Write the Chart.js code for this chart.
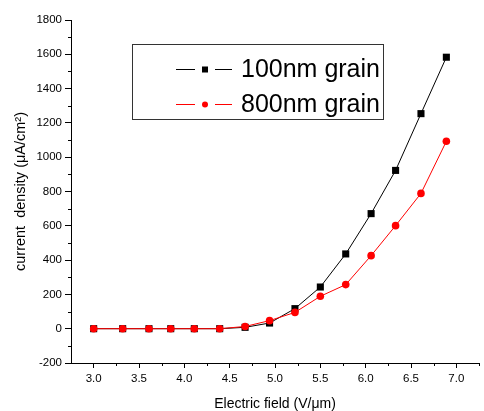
<!DOCTYPE html>
<html>
<head>
<meta charset="utf-8">
<script src="https://cdn.jsdelivr.net/npm/chart.js@4.4.0/dist/chart.umd.min.js"></script>
<style>
  body { margin: 0; background: #fff; }
  #wrap { width: 484px; height: 411px; }
</style>
</head>
<body>
<div id="wrap"><canvas id="grafico" width="484" height="411"></canvas></div>
<script>
// valores
const fieldValues = [3.0, 3.32, 3.61, 3.85, 4.11, 4.39, 4.67, 4.94, 5.22, 5.50, 5.78, 6.06, 6.33, 6.61, 6.89];
const grain100 = [0, 0, 0, 0, 0, 0, 8, 33, 117, 243, 436, 671, 923, 1254, 1583];
const grain800 = [0, 0, 0, 0, 0, 0, 13, 47, 95, 189, 257, 426, 601, 789, 1093];
const seriesNames = ['100nm grain', '800nm grain'];

const xTicks = [3.0, 3.5, 4.0, 4.5, 5.0, 5.5, 6.0, 6.5, 7.0];
const yTicks = [-200, 0, 200, 400, 600, 800, 1000, 1200, 1400, 1600, 1800];

const FONT = '"Liberation Sans", Arial, sans-serif';

function toPoints(ys) {
  return fieldValues.map((x, i) => ({ x: x, y: ys[i] }));
}

function midpoints(t) {
  const out = [];
  for (let i = 0; i < t.length - 1; i++) out.push((t[i] + t[i + 1]) / 2);
  return out;
}

// ticks menores (Chart.js no los tiene)
const minorTicks = {
  id: 'minorTicks',
  afterDraw(chart) {
    const ctx = chart.ctx;
    const xs = chart.scales.x, ys = chart.scales.y;
    ctx.save();
    ctx.strokeStyle = '#000';
    ctx.lineWidth = 1;
    const xm = midpoints(xTicks);
    xm.push(xTicks[xTicks.length - 1] + 0.25);
    xm.forEach(v => {
      if (v > xs.max) return;
      const px = Math.round(xs.getPixelForValue(v)) + 0.5;
      ctx.beginPath();
      ctx.moveTo(px, xs.top);
      ctx.lineTo(px, xs.top + 3);
      ctx.stroke();
    });
    midpoints(yTicks).forEach(v => {
      const py = Math.round(ys.getPixelForValue(v)) + 0.5;
      ctx.beginPath();
      ctx.moveTo(ys.right, py);
      ctx.lineTo(ys.right - 3, py);
      ctx.stroke();
    });
    ctx.restore();
  }
};

// leyenda con marco, dentro del area
const boxLegend = {
  id: 'boxLegend',
  afterDraw(chart) {
    const ctx = chart.ctx;
    ctx.save();
    ctx.strokeStyle = '#333';
    ctx.lineWidth = 1;
    ctx.strokeRect(132.5, 44.5, 251, 75);
    const rows = [69, 104];
    chart.data.datasets.forEach((ds, i) => {
      const y = rows[i];
      ctx.strokeStyle = ds.borderColor;
      ctx.lineWidth = 1;
      ctx.beginPath();
      ctx.moveTo(176, y + 0.5); ctx.lineTo(195, y + 0.5);
      ctx.moveTo(215, y + 0.5); ctx.lineTo(232, y + 0.5);
      ctx.stroke();
      ctx.fillStyle = ds.backgroundColor;
      if (ds.pointStyle === 'rect') {
        ctx.fillRect(202, y - 2.5, 6, 6);
      } else {
        ctx.beginPath();
        ctx.arc(205, y + 0.5, 3, 0, Math.PI * 2);
        ctx.fill();
      }
      ctx.fillStyle = '#000';
      ctx.font = '25px ' + FONT;
      ctx.textBaseline = 'middle';
      ctx.textAlign = 'left';
      ctx.fillText(ds.label, 241, y + 1);
    });
    ctx.restore();
  }
};

const ctx = document.getElementById('grafico').getContext('2d');
new Chart(ctx, {
  type: 'line',
  data: {
    datasets: [{
      label: seriesNames[0],
      data: toPoints(grain100),
      borderColor: '#000',
      backgroundColor: '#000',
      borderWidth: 1,
      pointStyle: 'rect',
      pointRadius: 5,
      pointBorderWidth: 0,
      order: 1
    }, {
      label: seriesNames[1],
      data: toPoints(grain800),
      borderColor: '#ff0000',
      backgroundColor: '#ff0000',
      borderWidth: 1,
      pointStyle: 'circle',
      pointRadius: 3.8,
      pointBorderWidth: 0,
      order: 0
    }]
  },
  options: {
    responsive: false,
    animation: false,
    layout: { padding: { top: 20, right: 0, left: 0, bottom: 0 } },
    plugins: {
      legend: { display: false },
      tooltip: { enabled: false }
    },
    scales: {
      x: {
        type: 'linear',
        min: 2.75,
        max: 7.25,
        afterBuildTicks: s => { s.ticks = xTicks.map(v => ({ value: v })); },
        afterFit: s => { s.height = 48; },
        border: { display: true, color: '#000', width: 1 },
        grid: { drawOnChartArea: false, drawTicks: true, tickLength: 5, color: '#000' },
        ticks: {
          color: '#000',
          padding: 4,
          font: { family: FONT, size: 11.5 },
          callback: v => v.toFixed(1)
        },
        title: {
          display: true,
          text: 'Electric field (V/\u03bcm)',
          color: '#000',
          font: { family: FONT, size: 14 },
          padding: { top: -2, bottom: -2 }
        }
      },
      y: {
        type: 'linear',
        min: -200,
        max: 1800,
        afterBuildTicks: s => { s.ticks = yTicks.map(v => ({ value: v })); },
        afterFit: s => { s.width = 71; },
        border: { display: true, color: '#000', width: 1 },
        grid: { drawOnChartArea: false, drawTicks: true, tickLength: 6, color: '#000' },
        ticks: {
          color: '#000',
          padding: 3,
          font: { family: FONT, size: 11.5 },
          callback: v => String(v)
        },
        title: {
          display: true,
          text: 'current  density (\u03bcA/cm\u00b2)',
          color: '#000',
          font: { family: FONT, size: 14.5 },
          padding: { top: 12, bottom: 0 }
        }
      }
    }
  },
  plugins: [minorTicks, boxLegend]
});
</script>
</body>
</html>
